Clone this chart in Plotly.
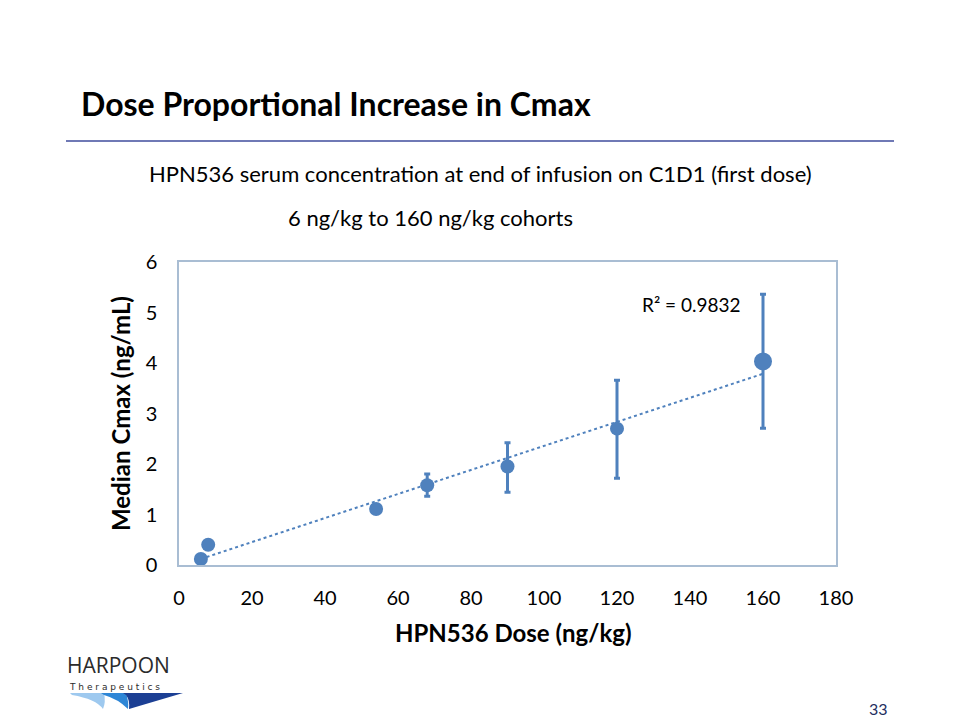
import numpy as np
import plotly.graph_objects as go

# ---- data ----
dose = [6, 8, 54, 68, 90, 120, 160]
cmax = [0.12, 0.40, 1.11, 1.58, 1.95, 2.70, 4.03]
err_upper = [None, None, None, 1.80, 2.42, 3.66, 5.36]
err_lower = [None, None, None, 1.36, 1.44, 1.72, 2.71]
marker_sizes = [14, 14, 14, 14, 14, 14, 18]
x_ticks = [0, 20, 40, 60, 80, 100, 120, 140, 160, 180]
y_ticks = [0, 1, 2, 3, 4, 5, 6]
r2_label = "R² = 0.9832"

BLUE = "#4f81bd"
W, H = 960, 720
L, R, T, B = 179, 836, 262, 565  # plot area in pixels


def px(x):
    return (x - L) / (R - L)


def py(y):
    return (B - y) / (B - T)


fig = go.Figure()

# trend line (least squares through the data)
slope, intercept = np.polyfit(dose, cmax, 1)
xt = np.array([min(dose), max(dose)])
fig.add_trace(go.Scatter(x=xt, y=slope * xt + intercept, mode="lines",
                         line=dict(color=BLUE, width=2, dash="dot"),
                         hoverinfo="skip", showlegend=False))

# error bars
idx = [i for i, u in enumerate(err_upper) if u is not None]
ex = [dose[i] for i in idx]
ey = [cmax[i] for i in idx]
eplus = [err_upper[i] - cmax[i] for i in idx]
eminus = [cmax[i] - err_lower[i] for i in idx]
fig.add_trace(go.Scatter(x=ex, y=ey, mode="markers",
                         marker=dict(size=1, color=BLUE, opacity=0),
                         error_y=dict(type="data", symmetric=False, array=eplus,
                                      arrayminus=eminus, color=BLUE,
                                      thickness=3, width=3),
                         showlegend=False))

# points
fig.add_trace(go.Scatter(x=dose, y=cmax, mode="markers",
                         marker=dict(size=marker_sizes, color=BLUE, opacity=1,
                                     line=dict(width=0)),
                         showlegend=False))

axis_font = dict(family="Lato, Open Sans, sans-serif", size=20, color="#000000")

fig.update_xaxes(range=[0, 180], tickvals=x_ticks, showgrid=False, zeroline=False,
                 showline=True, linecolor="#a9bdd3", linewidth=1.5, mirror=True,
                 ticks="", tickfont=axis_font, ticklabelstandoff=14)
fig.update_yaxes(range=[0, 6], tickvals=y_ticks, showgrid=False, zeroline=False,
                 showline=True, linecolor="#a9bdd3", linewidth=1.5, mirror=True,
                 ticks="", tickfont=axis_font, ticklabelstandoff=16)

ann = []
# title
ann.append(dict(text="<b>Dose Proportional Increase in Cmax</b>", x=px(79), y=py(103),
                xanchor="left", yanchor="middle",
                font=dict(family="Lato, sans-serif", size=32, color="#000000")))
# subtitles
ann.append(dict(text="HPN536 serum concentration at end of infusion on C1D1 (first dose)",
                x=px(480), y=py(173), xanchor="center", yanchor="middle",
                font=dict(family="Lato, sans-serif", size=22, color="#000000")))
ann.append(dict(text="6 ng/kg to 160 ng/kg cohorts",
                x=px(430), y=py(217), xanchor="center", yanchor="middle",
                font=dict(family="Lato, sans-serif", size=22, color="#000000")))
# axis titles
ann.append(dict(text="<b>HPN536 Dose (ng/kg)</b>", x=px(513), y=py(632),
                xanchor="center", yanchor="middle",
                font=dict(family="Lato, sans-serif", size=24, color="#000000")))
ann.append(dict(text="<b>Median Cmax (ng/mL)</b>", x=px(120), y=py(414),
                xanchor="center", yanchor="middle", textangle=-90,
                font=dict(family="Lato, sans-serif", size=24, color="#000000")))
# R squared
ann.append(dict(text=r2_label, x=px(691), y=py(304), xanchor="center", yanchor="middle",
                font=dict(family="Lato, sans-serif", size=19, color="#000000")))
# page number
ann.append(dict(text="33", x=px(878), y=py(708), xanchor="center", yanchor="middle",
                font=dict(family="Lato, sans-serif", size=16, color="#1f2f5f")))
# logo text
ann.append(dict(text="HARPOON", x=px(66), y=py(665), xanchor="left", yanchor="middle",
                borderpad=0,
                font=dict(family="Open Sans, sans-serif", size=21, color="#2b2b2b")))
ann.append(dict(text="T h e r a p e u t i c s", x=px(68), y=py(687), xanchor="left",
                yanchor="middle", borderpad=0,
                font=dict(family="DejaVu Sans, sans-serif", size=9, color="#2b2b2b")))
for a in ann:
    a.update(xref="paper", yref="paper", showarrow=False)

shapes = [
    dict(type="line", xref="paper", yref="paper", x0=px(66), x1=px(894), y0=py(141), y1=py(141),
         line=dict(color="#3f4d9c", width=1.5)),
    # logo swoosh
    dict(type="path", xref="paper", yref="paper",
         path=f"M {px(70)},{py(693)} L {px(104)},{py(693)} Q {px(106)},{py(702)} {px(103)},{py(709)} "
              f"Q {px(96)},{py(699)} {px(72)},{py(695)} Z",
         fillcolor="#9ec9ef", line=dict(width=0)),
    dict(type="path", xref="paper", yref="paper",
         path=f"M {px(101)},{py(693)} L {px(126)},{py(693)} Q {px(129)},{py(702)} {px(128)},{py(709)} "
              f"Q {px(118)},{py(699)} {px(104)},{py(695)} Z",
         fillcolor="#2e86d6", line=dict(width=0)),
    dict(type="path", xref="paper", yref="paper",
         path=f"M {px(123)},{py(693)} L {px(183)},{py(693)} L {px(129)},{py(709)} "
              f"Q {px(130)},{py(700)} {px(126)},{py(695)} Z",
         fillcolor="#1c3f94", line=dict(width=0)),
]

fig.update_layout(width=W, height=H, margin=dict(l=L, r=W - R, t=T, b=H - B),
                  paper_bgcolor="white", plot_bgcolor="white",
                  annotations=ann, shapes=shapes, showlegend=False)

fig.write_html("out.html")
